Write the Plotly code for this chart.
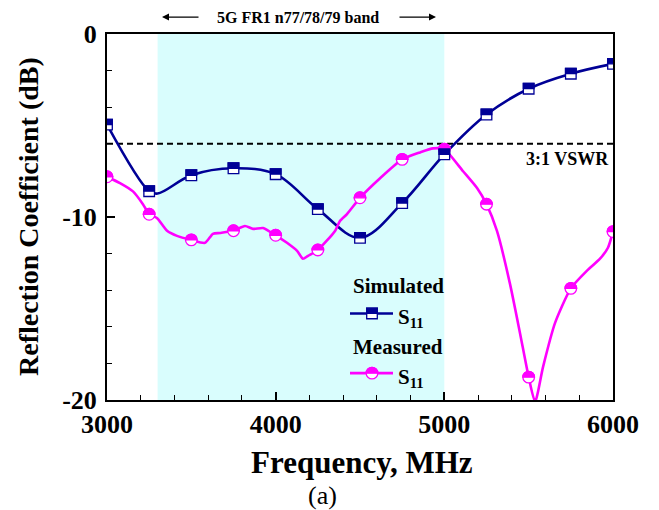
import plotly.graph_objects as go

# ---------------- data ----------------
sim_freq = [3000, 3250, 3300, 3500, 3750, 4000, 4250, 4500, 4750, 5000, 5250, 5500, 5750, 6000]
sim_db = [-4.95, -8.59, -8.72, -7.72, -7.34, -7.66, -9.57, -11.14, -9.24, -6.58, -4.40, -2.99, -2.17, -1.63]

mark_freq = [3000, 3250, 3500, 3750, 4000, 4250, 4500, 4750, 5000, 5250, 5500, 5750, 6000]
sim_mark_db = [-4.95, -8.59, -7.72, -7.34, -7.66, -9.57, -11.14, -9.24, -6.58, -4.40, -2.99, -2.17, -1.63]
meas_mark_db = [-7.8, -9.85, -11.25, -10.75, -11.0, -11.8, -8.95, -6.85, -6.3, -9.3, -18.75, -13.9, -10.8]

meas_freq = [3000, 3077, 3154, 3213, 3250, 3296, 3356, 3415, 3500, 3581, 3628, 3670, 3750,
             3818, 3866, 3925, 4000, 4067, 4127, 4162, 4192, 4250, 4352, 4381, 4423, 4500,
             4619, 4750, 4856, 4933, 5000, 5111, 5194, 5250, 5312, 5389, 5449, 5500, 5538,
             5585, 5656, 5750, 5846, 5923, 5970, 6000]
meas_db = [-7.8, -8.15, -8.6, -9.3, -9.85, -10.05, -10.75, -11.03, -11.25, -11.41, -10.92, -10.87, -10.75,
           -10.49, -10.65, -10.6, -11.0, -11.41, -11.85, -12.28, -12.12, -11.8, -10.76, -10.22, -9.84, -8.95,
           -7.88, -6.85, -6.47, -6.25, -6.3, -7.5, -8.42, -9.3, -10.76, -13.64, -16.36, -18.75, -20.1,
           -18.2, -15.8, -13.9, -12.93, -12.28, -11.68, -10.8]

band = [3300, 5000]
vswr_level = -6
x_ticks = [3000, 4000, 5000, 6000]
y_ticks = [0, -10, -20]

NAVY = "#000096"
MAG = "#ff00ff"
FONT = "Liberation Serif"

# The page body has an 8px margin; lay the figure out in window pixels.
OFF = 8
W, H = 659 - OFF, 510 - OFF
PL, PR, PT, PB = 107, 613, 32, 400      # plot box in window pixels
L, T = PL - OFF, PT - OFF
R, B = W - (PR - OFF), H - (PB - OFF)
PW, PH = PR - PL, PB - PT


def px(xp):
    return (xp - PL) / PW


def py(yp):
    return (PB - yp) / PH


fig = go.Figure()

fig.add_trace(go.Scatter(x=sim_freq, y=sim_db, mode="lines",
                         line=dict(color=NAVY, width=2.6, shape="spline", smoothing=1.0),
                         showlegend=False, hoverinfo="skip"))
fig.add_trace(go.Scatter(x=meas_freq, y=meas_db, mode="lines",
                         line=dict(color=MAG, width=2.6, shape="spline", smoothing=0.6),
                         showlegend=False, hoverinfo="skip"))

shapes = []
shapes.append(dict(type="rect", xref="x", yref="paper", x0=band[0], x1=band[1], y0=0, y1=1,
                   fillcolor="#d9fdfd", line=dict(width=0), layer="below"))
shapes.append(dict(type="line", xref="paper", yref="y", x0=0, x1=1, y0=vswr_level, y1=vswr_level,
                   line=dict(color="black", width=2, dash="6px,4px"), layer="below"))

K = 0.5523


def half_circle_path(r):
    k = K * r
    return (f"M {-r},0 C {-r},{k} {-k},{r} 0,{r} C {k},{r} {r},{k} {r},0 Z")


def square_marker(x, y, xref, yref, s=5.3):
    return [
        dict(type="rect", xref=xref, yref=yref, xsizemode="pixel", ysizemode="pixel",
             xanchor=x, yanchor=y, x0=-s, x1=s, y0=-s, y1=s,
             fillcolor="white", line=dict(color=NAVY, width=1.3)),
        dict(type="rect", xref=xref, yref=yref, xsizemode="pixel", ysizemode="pixel",
             xanchor=x, yanchor=y, x0=-s, x1=s, y0=0, y1=s,
             fillcolor=NAVY, line=dict(color=NAVY, width=1.3)),
    ]


def circle_marker(x, y, xref, yref, r=5.8):
    return [
        dict(type="circle", xref=xref, yref=yref, xsizemode="pixel", ysizemode="pixel",
             xanchor=x, yanchor=y, x0=-r, x1=r, y0=-r, y1=r,
             fillcolor="white", line=dict(color=MAG, width=1.3)),
        dict(type="path", xref=xref, yref=yref, xsizemode="pixel", ysizemode="pixel",
             xanchor=x, yanchor=y, path=half_circle_path(r),
             fillcolor=MAG, line=dict(color=MAG, width=1.3)),
    ]


for f, d in zip(mark_freq, meas_mark_db):
    shapes += circle_marker(f, d, "x", "y")
for f, d in zip(mark_freq, sim_mark_db):
    shapes += square_marker(f, d, "x", "y")

# manual legend
leg_x0, leg_x1, leg_xm = px(350), px(393), px(372)
y_sim, y_meas = py(313), py(373)
shapes.append(dict(type="line", xref="paper", yref="paper", x0=leg_x0, x1=leg_x1, y0=y_sim, y1=y_sim,
                   line=dict(color=NAVY, width=2.6)))
shapes += square_marker(leg_xm, y_sim, "paper", "paper")
shapes.append(dict(type="line", xref="paper", yref="paper", x0=leg_x0, x1=leg_x1, y0=y_meas, y1=y_meas,
                   line=dict(color=MAG, width=2.6)))
shapes += circle_marker(leg_xm, y_meas, "paper", "paper")

bold = dict(family=FONT, color="black")

annotations = [
    dict(text="<b>Simulated</b>", x=px(351), y=py(285), xref="paper", yref="paper",
         xanchor="left", yanchor="middle", showarrow=False, font=dict(size=21, **bold)),
    dict(text="<b>Measured</b>", x=px(351), y=py(347), xref="paper", yref="paper",
         xanchor="left", yanchor="middle", showarrow=False, font=dict(size=21, **bold)),
    dict(text="<b>S<sub>11</sub></b>", x=px(396), y=py(318), xref="paper", yref="paper",
         xanchor="left", yanchor="middle", showarrow=False, font=dict(size=21, **bold)),
    dict(text="<b>S<sub>11</sub></b>", x=px(396), y=py(378), xref="paper", yref="paper",
         xanchor="left", yanchor="middle", showarrow=False, font=dict(size=21, **bold)),
    dict(text="<b>3:1 VSWR</b>", x=px(611), y=py(158), xref="paper", yref="paper",
         xanchor="right", yanchor="middle", showarrow=False, font=dict(size=18, **bold)),
    dict(text="<b>5G FR1 n77/78/79 band</b>", x=px(298), y=py(15), xref="paper", yref="paper",
         xanchor="center", yanchor="middle", showarrow=False, font=dict(size=16, **bold)),
    dict(text="", x=px(162), y=py(15), xref="paper", yref="paper", ax=38, ay=0,
         showarrow=True, arrowhead=2, arrowsize=1, arrowwidth=1.4, arrowcolor="black"),
    dict(text="", x=px(436), y=py(15), xref="paper", yref="paper", ax=-38, ay=0,
         showarrow=True, arrowhead=2, arrowsize=1, arrowwidth=1.4, arrowcolor="black"),
    dict(text="<b>Reflection Coefficient (dB)</b>", x=px(28), y=0.5, xref="paper", yref="paper",
         xanchor="center", yanchor="middle", textangle=-90, showarrow=False,
         font=dict(size=28, **bold)),
    dict(text="<b>Frequency, MHz</b>", x=px(362), y=py(463), xref="paper", yref="paper",
         xanchor="center", yanchor="middle", showarrow=False, font=dict(size=31, **bold)),
    dict(text="(a)", x=px(322), y=py(496), xref="paper", yref="paper",
         xanchor="center", yanchor="middle", showarrow=False,
         font=dict(size=26, family=FONT, color="black")),
]

axis_common = dict(
    showgrid=False, zeroline=False, showline=True, linecolor="black", linewidth=2,
    mirror=True, ticks="inside", ticklen=8, tickwidth=1.6, tickcolor="black",
    tickfont=dict(size=26, family=FONT, color="black", weight="bold"),
)

fig.update_layout(
    width=W, height=H, margin=dict(l=L, r=R, t=T, b=B),
    paper_bgcolor="white", plot_bgcolor="white",
    showlegend=False,
    shapes=shapes, annotations=annotations,
    xaxis=dict(range=[3000, 6000], tickvals=x_ticks, ticktext=[str(v) for v in x_ticks],
               minor=dict(ticks="inside", ticklen=5, tickwidth=1.4, tickcolor="black", dtick=200,
                          tick0=3000),
               ticklabelstandoff=0, **axis_common),
    yaxis=dict(range=[-20, 0], tickvals=y_ticks, ticktext=[str(v) for v in y_ticks],
               minor=dict(ticks="inside", ticklen=5, tickwidth=1.4, tickcolor="black", dtick=2,
                          tick0=0),
               ticklabelstandoff=3, **axis_common),
)

fig.write_html("out.html")
